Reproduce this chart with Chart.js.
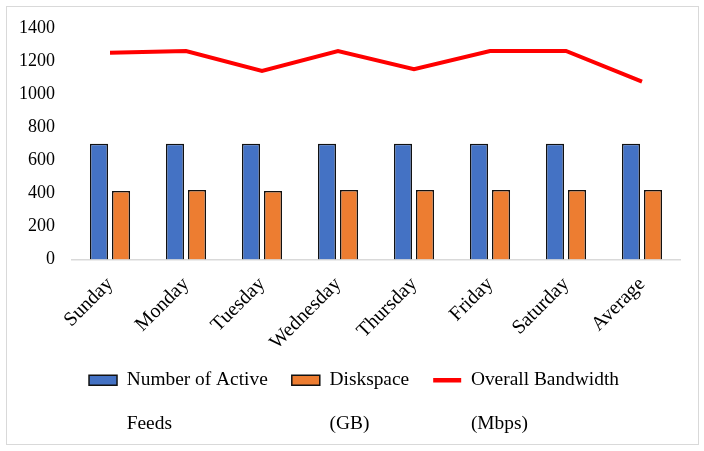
<!DOCTYPE html>
<html>
<head>
<meta charset="utf-8">
<script src="https://cdn.jsdelivr.net/npm/chart.js@4"></script>
<style>
  html, body { margin: 0; padding: 0; background: #fff; }
  #wrap { position: relative; width: 704px; height: 451px; }
  #frame { position: absolute; left: 6px; top: 6px; width: 691px; height: 437px; border: 1px solid #d9d9d9; pointer-events: none; }
  canvas { position: absolute; left: 0; top: 0; }
</style>
</head>
<body>
<div id="wrap">
  <canvas id="c" width="704" height="451"></canvas>
  <div id="frame"></div>
</div>
<script>
const categories = ["Sunday", "Monday", "Tuesday", "Wednesday", "Thursday", "Friday", "Saturday", "Average"];
const activeFeeds = [700, 700, 700, 700, 700, 700, 700, 700];
const diskspaceGB = [415, 420, 415, 420, 420, 420, 420, 420];
const bandwidthMbps = [1250, 1260, 1140, 1260, 1150, 1260, 1260, 1075];
const seriesNames = ["Number of Active", "Diskspace", "Overall Bandwidth"];
const seriesSecondLine = ["Feeds", "(GB)", "(Mbps)"];
const yTicks = [0, 200, 400, 600, 800, 1000, 1200, 1400];

const FONT = "'Liberation Serif', 'Times New Roman', serif";
const LEGEND_FONT = 19.4;
const LEGEND_BOX = 28;
const LEGEND_SHIFT = 13;

const legendShift = {
  id: 'legendShift',
  afterLayout(chart) {
    const lg = chart.legend;
    if (lg) { lg.left += LEGEND_SHIFT; lg.right += LEGEND_SHIFT; }
  }
};

const secondLine = {
  id: 'secondLine',
  afterDraw(chart) {
    const lg = chart.legend;
    if (!lg || !lg.legendHitBoxes) return;
    const ctx = chart.ctx;
    ctx.save();
    ctx.font = LEGEND_FONT + "px " + FONT;
    ctx.fillStyle = '#000';
    ctx.textBaseline = 'middle';
    ctx.textAlign = 'left';
    lg.legendHitBoxes.forEach((hb, i) => {
      const x = hb.left + LEGEND_BOX + LEGEND_FONT / 2;
      const y = hb.top + hb.height / 2 + 44;
      ctx.fillText(seriesSecondLine[i], x, y);
    });
    ctx.restore();
  }
};

new Chart(document.getElementById('c'), {
  data: {
    labels: categories,
    datasets: [
      {
        type: 'bar', label: seriesNames[0], data: activeFeeds,
        backgroundColor: '#4472C4', borderColor: '#111', borderWidth: 1.5,
        barPercentage: 0.82, categoryPercentage: 0.58, order: 2
      },
      {
        type: 'bar', label: seriesNames[1], data: diskspaceGB,
        backgroundColor: '#ED7D31', borderColor: '#111', borderWidth: 1.5,
        barPercentage: 0.82, categoryPercentage: 0.58, order: 3
      },
      {
        type: 'line', label: seriesNames[2], data: bandwidthMbps,
        borderColor: '#FF0000', backgroundColor: '#FF0000', borderWidth: 4,
        pointRadius: 0, tension: 0, fill: false, order: 1
      }
    ]
  },
  options: {
    responsive: false,
    animation: false,
    layout: { padding: { left: 2, right: 24, top: 16, bottom: 51 } },
    plugins: {
      tooltip: { enabled: false },
      legend: {
        position: 'bottom',
        labels: {
          font: { family: FONT, size: LEGEND_FONT },
          color: '#000',
          usePointStyle: true,
          pointStyleWidth: LEGEND_BOX,
          boxHeight: 10,
          padding: 24,
          sort: (a, b) => a.datasetIndex - b.datasetIndex,
          generateLabels(chart) {
            const items = Chart.defaults.plugins.legend.labels.generateLabels(chart);
            items.forEach(it => {
              const ds = chart.data.datasets[it.datasetIndex];
              if (ds.type === 'line') {
                it.pointStyle = 'line';
                it.strokeStyle = '#FF0000';
                it.lineWidth = 4.5;
              } else {
                it.pointStyle = 'rect';
                it.strokeStyle = '#111';
                it.lineWidth = 1.5;
              }
            });
            return items;
          }
        }
      }
    },
    scales: {
      x: {
        grid: { display: false, drawTicks: false },
        border: { display: true, color: '#d9d9d9', width: 1.5 },
        afterFit(scale) { scale.height = 87; scale.paddingLeft = 0; scale.paddingRight = 0; },
        ticks: {
          autoSkip: false, minRotation: 45, maxRotation: 45,
          font: { family: FONT, size: 20 }, color: '#000', padding: 13
        }
      },
      y: {
        min: 0, max: 1400,
        grid: { display: false, drawTicks: false },
        border: { display: false },
        afterBuildTicks(scale) { scale.ticks = yTicks.map(v => ({ value: v })); },
        ticks: {
          font: { family: FONT, size: 18 }, color: '#000', padding: 17,
          callback: (v) => String(v)
        }
      }
    }
  },
  plugins: [legendShift, secondLine]
});
</script>
</body>
</html>
